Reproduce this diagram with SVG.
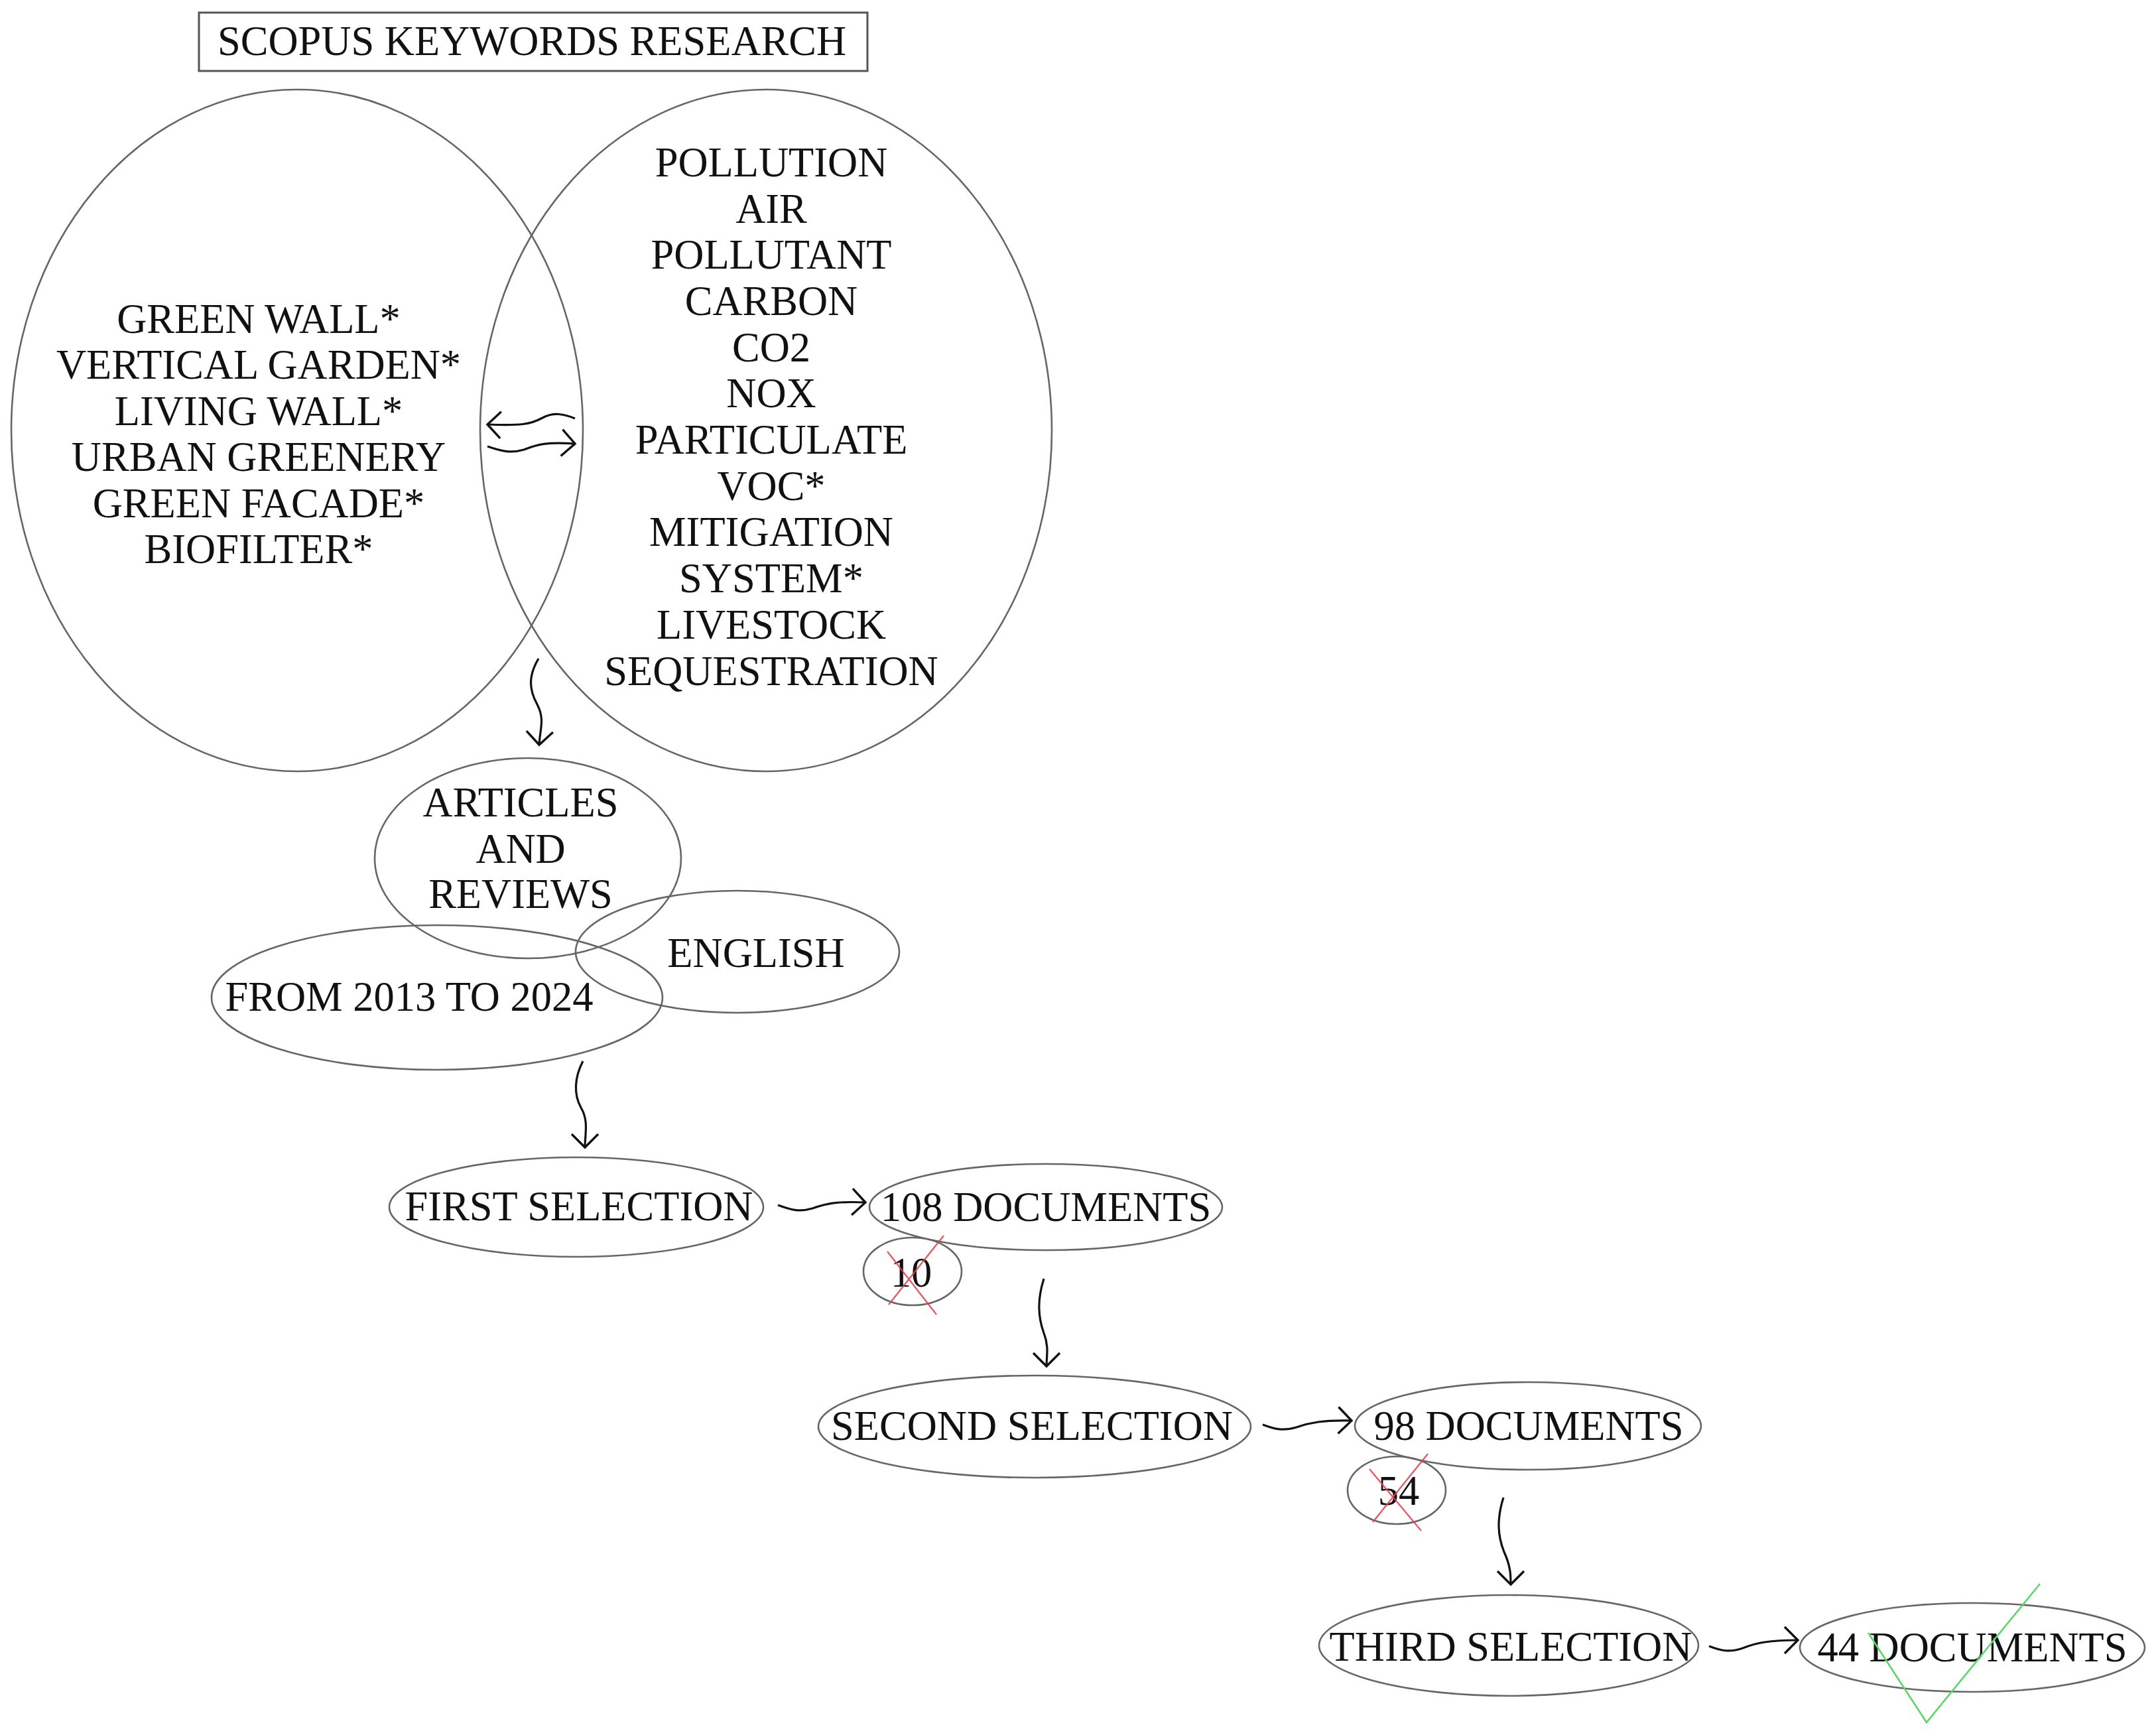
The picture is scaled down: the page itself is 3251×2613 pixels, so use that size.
<svg xmlns="http://www.w3.org/2000/svg" width="3251" height="2613" viewBox="0 0 3251 2613">
<style>
.bg{fill:#ffffff}
.node ellipse{fill:none;stroke:#666;stroke-width:2.6}
.box{fill:none;stroke:#555;stroke-width:3}
text{font-family:"Liberation Serif","Times New Roman",serif;font-size:62.5px;fill:#111;text-anchor:middle}
.conn path{fill:none;stroke:#111;stroke-width:3.2;marker-end:url(#arr)}
.cross{stroke:#e0404c;stroke-width:2.4;stroke-opacity:0.85;fill:none}
.check{stroke:#5cd66a;stroke-width:2.6;fill:none}
</style>
<defs>
<marker id="arr" viewBox="-30 -30 40 60" refX="0" refY="0" markerWidth="40" markerHeight="60" markerUnits="userSpaceOnUse" orient="auto" overflow="visible">
<path d="M-20,-20 L0,0 L-20,20" fill="none" stroke="#111" stroke-width="3.4"/>
</marker>
</defs>
<rect class="bg" x="0" y="0" width="3251" height="2613"/>

<g id="title">
<rect class="box" x="300" y="19" width="1008" height="88"/>
<text x="802" y="83">SCOPUS KEYWORDS RESEARCH</text>
</g>

<g id="green-keywords" class="node">
<ellipse cx="448" cy="649" rx="431" ry="514"/>
<text x="390" y="502">GREEN WALL*</text>
<text x="390" y="571">VERTICAL GARDEN*</text>
<text x="390" y="641">LIVING WALL*</text>
<text x="390" y="710">URBAN GREENERY</text>
<text x="390" y="780">GREEN FACADE*</text>
<text x="390" y="849">BIOFILTER*</text>
</g>

<g id="pollution-keywords" class="node">
<ellipse cx="1155" cy="649" rx="431" ry="514"/>
<text x="1163" y="266">POLLUTION</text>
<text x="1163" y="336">AIR</text>
<text x="1163" y="405">POLLUTANT</text>
<text x="1163" y="475">CARBON</text>
<text x="1163" y="545">CO2</text>
<text x="1163" y="614">NOX</text>
<text x="1163" y="684">PARTICULATE</text>
<text x="1163" y="754">VOC*</text>
<text x="1163" y="823">MITIGATION</text>
<text x="1163" y="893">SYSTEM*</text>
<text x="1163" y="963">LIVESTOCK</text>
<text x="1163" y="1033">SEQUESTRATION</text>
</g>

<g id="articles-reviews" class="node">
<ellipse cx="796" cy="1294" rx="231" ry="151"/>
<text x="785" y="1231">ARTICLES</text>
<text x="785" y="1301">AND</text>
<text x="785" y="1369">REVIEWS</text>
</g>

<g id="english" class="node">
<ellipse cx="1112" cy="1435" rx="244" ry="92"/>
<text x="1140" y="1458">ENGLISH</text>
</g>

<g id="years" class="node">
<ellipse cx="659" cy="1504" rx="340" ry="109"/>
<text x="617" y="1524">FROM 2013 TO 2024</text>
</g>

<g id="first-selection" class="node">
<ellipse cx="869" cy="1820" rx="282" ry="75"/>
<text x="873" y="1840">FIRST SELECTION</text>
</g>

<g id="docs-108" class="node">
<ellipse cx="1577" cy="1820" rx="266" ry="65"/>
<text x="1577" y="1841">108 DOCUMENTS</text>
</g>

<g id="excluded-10" class="node">
<ellipse cx="1376" cy="1917" rx="74" ry="51"/>
<text x="1374" y="1940">10</text>
<path class="cross" d="M1338,1887 L1412,1982 M1423,1863 L1340,1967"/>
</g>

<g id="second-selection" class="node">
<ellipse cx="1560" cy="2151" rx="326" ry="77"/>
<text x="1556" y="2171">SECOND SELECTION</text>
</g>

<g id="docs-98" class="node">
<ellipse cx="2304" cy="2150" rx="261" ry="66"/>
<text x="2305" y="2171">98 DOCUMENTS</text>
</g>

<g id="excluded-54" class="node">
<ellipse cx="2106" cy="2247" rx="74" ry="51"/>
<text x="2109" y="2269">54</text>
<path class="cross" d="M2065,2215 L2143,2308 M2153,2192 L2070,2295"/>
</g>

<g id="third-selection" class="node">
<ellipse cx="2275" cy="2481" rx="286" ry="76"/>
<text x="2278" y="2504">THIRD SELECTION</text>
</g>

<g id="docs-44" class="node">
<ellipse cx="2974" cy="2484" rx="260" ry="67"/>
<text x="2974" y="2505">44 DOCUMENTS</text>
<polyline class="check" points="2817,2462 2905,2597 3076,2388"/>
</g>

<g id="connectors" class="conn">
<path d="M867,631 C850,624 835,621 818,630 C800,640 785,642 735,640"/>
<path d="M735,673 C755,680 770,684 790,678 C810,670 825,666 867,669"/>
<path d="M812,993 C796,1020 798,1040 810,1062 C822,1085 814,1100 813,1123"/>
<path d="M879,1600 C866,1625 865,1650 876,1670 C888,1690 882,1710 882,1730"/>
<path d="M1173,1817 C1192,1824 1205,1828 1225,1822 C1245,1815 1260,1811 1305,1813"/>
<path d="M1574,1928 C1564,1960 1565,1985 1574,2010 C1582,2030 1578,2045 1578,2060"/>
<path d="M1904,2148 C1922,2155 1935,2158 1955,2152 C1975,2145 1995,2141 2038,2142"/>
<path d="M2267,2258 C2257,2290 2258,2315 2268,2340 C2278,2362 2278,2375 2278,2389"/>
<path d="M2577,2482 C2595,2489 2608,2492 2628,2485 C2648,2477 2668,2473 2711,2473"/>
</g>
</svg>
